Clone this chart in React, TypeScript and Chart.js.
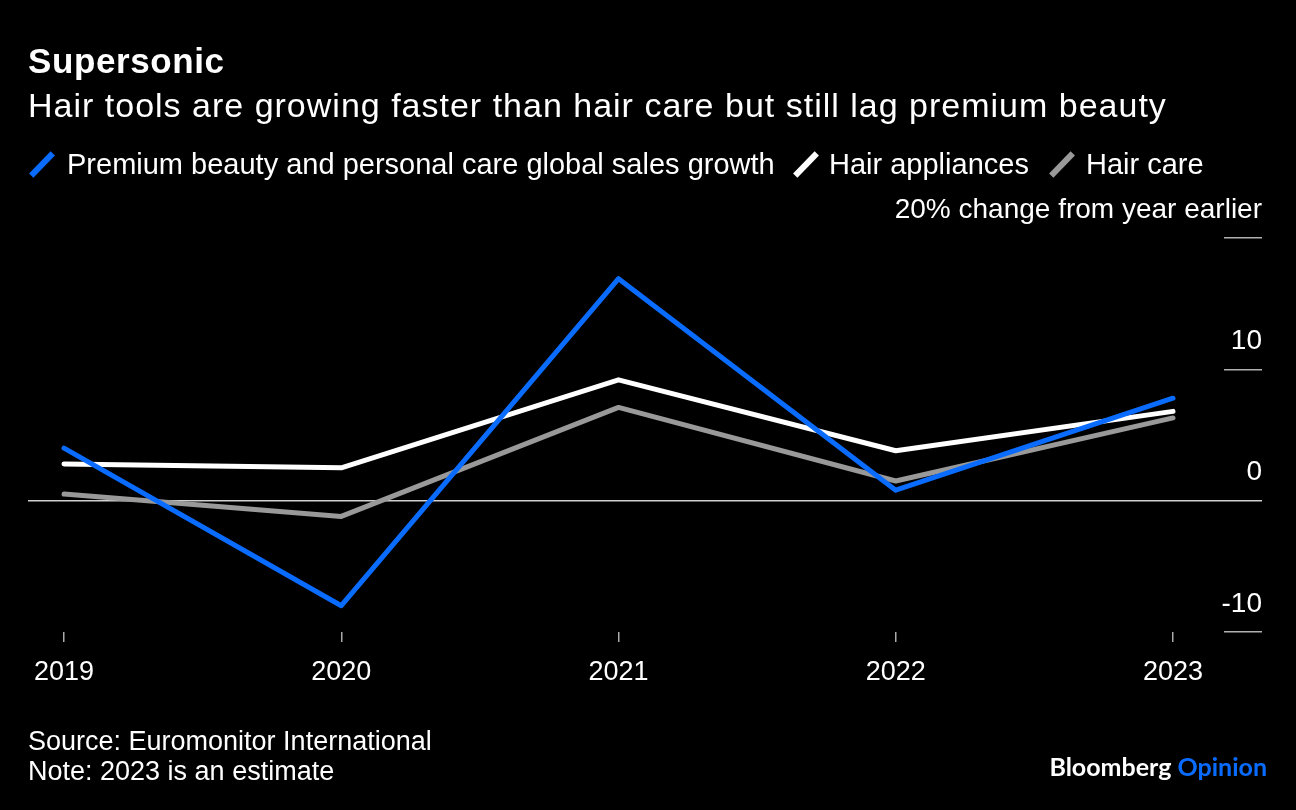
import React, { useEffect, useRef } from "react";
import { Chart, registerables } from "chart.js";

Chart.register(...registerables);

// ---- data ----
const years = [2019, 2020, 2021, 2022, 2023];
const premiumBeauty = [4.0, -8.0, 16.9, 0.8, 7.8];
const hairAppliances = [2.8, 2.5, 9.2, 3.8, 6.8];
const hairCare = [0.5, -1.2, 7.1, 1.5, 6.3];
const yTicks = [-10, 0, 10, 20];
const seriesLabels = [
  "Premium beauty and personal care global sales growth",
  "Hair appliances",
  "Hair care",
];
const seriesColors = ["#0a6cff", "#ffffff", "#999999"];

const FONT = "'Liberation Sans', Arial, Helvetica, sans-serif";

export default function App() {
  const canvasRef = useRef<HTMLCanvasElement | null>(null);

  useEffect(() => {
    const canvas = canvasRef.current;
    if (!canvas) return;
    const series = [premiumBeauty, hairAppliances, hairCare];
    const chart = new Chart(canvas, {
      type: "line",
      data: {
        datasets: series.map((vals, i) => ({
          label: seriesLabels[i],
          data: vals.map((v, j) => ({ x: years[j], y: v })),
          borderColor: seriesColors[i],
          backgroundColor: seriesColors[i],
          borderWidth: 5,
          pointRadius: 0,
          tension: 0,
          borderCapStyle: "round" as const,
          borderJoinStyle: "round" as const,
        })),
      },
      options: {
        animation: false,
        responsive: false,
        devicePixelRatio: 1,
        layout: { padding: { left: 28, right: 34, top: 238, bottom: 118 } },
        plugins: {
          legend: { display: false },
          tooltip: { enabled: false },
        },
        scales: {
          x: {
            type: "linear",
            min: 2018.87,
            max: 2023.184,
            afterBuildTicks: (s: any) => {
              s.ticks = years.map((v) => ({ value: v }));
            },
            afterFit: (s: any) => {
              s.height = 60;
            },
            border: { display: false },
            grid: {
              drawOnChartArea: false,
              tickLength: 10,
              tickColor: "#aaaaaa",
              lineWidth: 1.5,
            },
            ticks: {
              color: "#ffffff",
              font: { family: FONT, size: 27 },
              padding: 14,
              autoSkip: false,
              maxRotation: 0,
              callback: (v: any) => String(v),
            },
          },
          y: {
            position: "right",
            min: -10,
            max: 20,
            afterBuildTicks: (s: any) => {
              s.ticks = yTicks.map((v) => ({ value: v }));
            },
            afterFit: (s: any) => {
              s.width = 38;
            },
            border: { display: false },
            grid: {
              drawOnChartArea: true,
              color: (c: any) =>
                c.tick && c.tick.value === 0 ? "#d0d0d0" : "rgba(0,0,0,0)",
              tickColor: (c: any) =>
                c.tick && c.tick.value === 0 ? "#d0d0d0" : "#b0b0b0",
              tickLength: 38,
              lineWidth: 1.5,
            },
            ticks: {
              mirror: true,
              padding: 38,
              labelOffset: -28,
              color: "#ffffff",
              font: { family: FONT, size: 28 },
              callback: (v: any) =>
                v === 20 ? "20% change from year earlier" : String(v),
            },
          },
        },
      },
    });
    return () => chart.destroy();
  }, []);

  const legendItems = [
    { marker: 30, text: 67 },
    { marker: 794, text: 829 },
    { marker: 1050, text: 1086 },
  ];

  return (
    <div
      style={{
        position: "fixed",
        left: 0,
        top: 0,
        width: 1296,
        height: 810,
        background: "#000000",
        overflow: "hidden",
        fontFamily: FONT,
        color: "#ffffff",
      }}
    >
      <canvas
        ref={canvasRef}
        width={1296}
        height={810}
        style={{ position: "absolute", left: 0, top: 0, width: 1296, height: 810 }}
      />
      <div
        style={{
          position: "absolute",
          left: 28,
          top: 43,
          fontSize: 35,
          lineHeight: "35px",
          fontWeight: 700,
          letterSpacing: 0.6,
          whiteSpace: "nowrap",
        }}
      >
        Supersonic
      </div>
      <div
        style={{
          position: "absolute",
          left: 28,
          top: 88,
          fontSize: 34,
          lineHeight: "34px",
          letterSpacing: 1.0,
          whiteSpace: "nowrap",
        }}
      >
        Hair tools are growing faster than hair care but still lag premium beauty
      </div>
      {seriesLabels.map((lab, i) => (
        <React.Fragment key={lab}>
          <div
            style={{
              position: "absolute",
              left: legendItems[i].marker + 9,
              top: 149,
              width: 6,
              height: 31,
              background: seriesColors[i],
              transform: "rotate(44deg)",
            }}
          />
          <div
            style={{
              position: "absolute",
              left: legendItems[i].text,
              top: 150,
              fontSize: 29,
              lineHeight: "29px",
              whiteSpace: "nowrap",
            }}
          >
            {lab}
          </div>
        </React.Fragment>
      ))}
      <div
        style={{
          position: "absolute",
          left: 28,
          top: 727,
          fontSize: 27,
          lineHeight: "29.5px",
          whiteSpace: "nowrap",
        }}
      >
        <div>Source: Euromonitor International</div>
        <div>Note: 2023 is an estimate</div>
      </div>
      <div
        style={{
          position: "absolute",
          right: 29,
          top: 754,
          fontSize: 25,
          lineHeight: "25px",
          fontFamily: "Lato, 'Open Sans', sans-serif",
          fontWeight: 700,
          whiteSpace: "nowrap",
        }}
      >
        <span style={{ color: "#ffffff" }}>Bloomberg </span>
        <span style={{ color: "#0a6cff" }}>Opinion</span>
      </div>
    </div>
  );
}
